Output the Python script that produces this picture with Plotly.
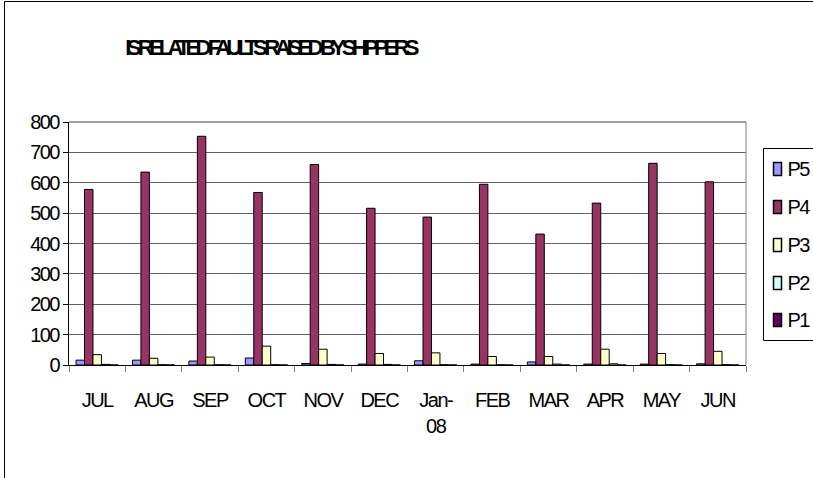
import plotly.graph_objects as go

months = ["JUL", "AUG", "SEP", "OCT", "NOV", "DEC", "Jan-<br>08", "FEB", "MAR", "APR", "MAY", "JUN"]
p5 = [16, 16, 13, 23, 5, 3, 14, 3, 10, 3, 3, 4]
p4 = [578, 635, 753, 568, 660, 516, 487, 595, 431, 533, 664, 603]
p3 = [34, 22, 26, 62, 52, 38, 40, 28, 28, 52, 38, 45]
p2 = [2, 1, 1, 1, 2, 2, 1, 1, 3, 4, 1, 1]
p1 = [0, 0, 0, 0, 0, 0, 0, 0, 0, 0, 0, 0]

names = ["P5", "P4", "P3", "P2", "P1"]
colors = ["#9999FF", "#993366", "#FFFFCC", "#CCFFFF", "#660066"]
values = [p5, p4, p3, p2, p1]

FONT = "Liberation Sans, Arial, sans-serif"

fig = go.Figure()
for name, vals, col in zip(names, values, colors):
    fig.add_trace(go.Bar(x=months, y=vals, name=name,
                         marker=dict(color=col, line=dict(color="black", width=1))))

W, H = 813, 478
L, R, T, B = 69, 746, 122, 365
pw, ph = R - L, B - T

def px(x):
    return (x - L) / pw

def py(y):
    return (B - y) / ph

shapes = [
    dict(type="line", xref="paper", yref="paper", x0=1, x1=1, y0=0, y1=1,
         line=dict(color="#808080", width=1)),
    dict(type="line", xref="paper", yref="paper", x0=0, x1=1, y0=1, y1=1,
         line=dict(color="#404040", width=1)),
    # outer chart frame
    dict(type="rect", xref="paper", yref="paper", x0=px(4.5), x1=px(900),
         y0=py(700), y1=py(1.5), line=dict(color="black", width=1), layer="below"),
    # legend box
    dict(type="rect", xref="paper", yref="paper", x0=px(763.5), x1=px(900),
         y0=py(340.5), y1=py(148.5), line=dict(color="black", width=1),
         fillcolor="white", layer="below"),
]
annotations = []
leg_y = [169, 207, 245, 283, 320]
for name, col, yy in zip(names, colors, leg_y):
    shapes.append(dict(type="rect", xref="paper", yref="paper",
                       x0=px(773.5), x1=px(781.5), y0=py(yy + 6.5), y1=py(yy - 6.5),
                       line=dict(color="black", width=1.5), fillcolor=col))
    annotations.append(dict(text=name, xref="paper", yref="paper", x=px(784),
                            y=py(yy), xanchor="left", yanchor="middle", showarrow=False,
                            font=dict(family=FONT, size=20, color="black")))

fig.update_layout(
    width=W, height=H,
    margin=dict(l=L, r=W - R, t=T, b=H - B, autoexpand=False),
    paper_bgcolor="white", plot_bgcolor="white",
    barmode="group", bargap=0.25, bargroupgap=0,
    font=dict(family=FONT, size=20, color="black"),
    title=dict(text="<b>IS RELATED FAULTS RAISED BY SHIPPERS</b>",
               x=270 / W, xanchor="center", y=1 - 47 / H, yanchor="middle",
               font=dict(family=FONT, size=22, color="black")),
    showlegend=False,
    xaxis=dict(showline=True, linecolor="black", linewidth=1, mirror=False,
               ticks="outside", ticklen=6, tickcolor="#808080", tickson="boundaries",
               ticklabelstandoff=17,
               tickfont=dict(family=FONT, size=20), showgrid=False, fixedrange=True),
    yaxis=dict(range=[0, 800], dtick=100, showline=True, linecolor="black", linewidth=1,
               ticks="outside", ticklen=5, tickcolor="black",
               showgrid=True, gridcolor="#606060", gridwidth=1,
               tickfont=dict(family=FONT, size=20), zeroline=False, fixedrange=True),
    shapes=shapes,
    annotations=annotations,
)

post = """
document.body.style.margin='0';document.body.style.overflow='hidden';
var t=document.querySelector('.gtitle'); if(t){t.style.letterSpacing='-4.8px';}
document.querySelectorAll('.xtick text, .ytick text, .annotation-text').forEach(function(e){e.style.letterSpacing='-1.5px';});
"""
fig.write_html("out.html", config={"displayModeBar": False}, post_script=post)
